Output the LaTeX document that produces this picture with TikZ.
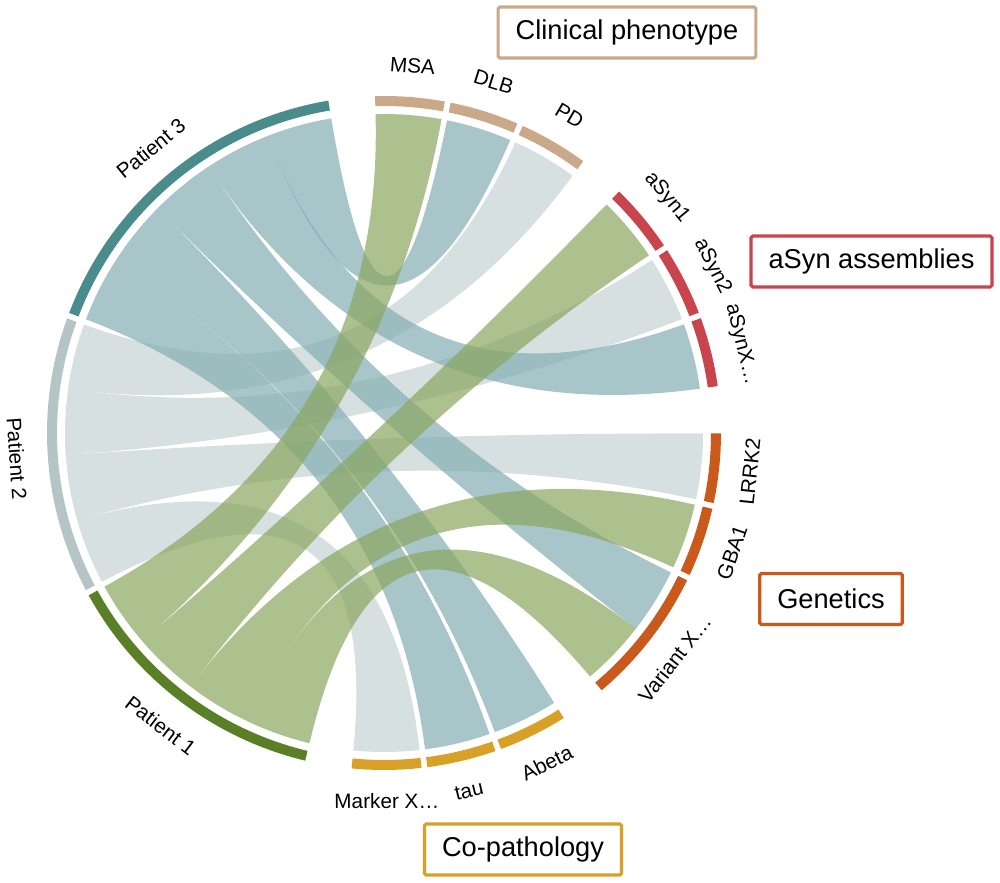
\documentclass[tikz,border=0pt]{standalone}
\usepackage{fontspec}
\setmainfont{Liberation Sans}
\usepackage{tikz}

\definecolor{pone}{HTML}{5A7F26}
\definecolor{ptwo}{HTML}{B5C5C7}
\definecolor{pthree}{HTML}{4A8C8C}
\definecolor{lone}{HTML}{8AA65F}
\definecolor{ltwo}{HTML}{C6D3D3}
\definecolor{lthree}{HTML}{83AEB3}
\definecolor{clin}{HTML}{C9A98A}
\definecolor{asyn}{HTML}{C9454E}
\definecolor{gene}{HTML}{C95A1C}
\definecolor{copa}{HTML}{D9A027}

% ring piece: start, end, colour
\newcommand{\ringpart}[3]{%
  \fill[#3] (#1:337) arc[start angle=#1,end angle=#2,radius=337]
    -- (#2:327) arc[start angle=#2,end angle=#1,radius=327] -- cycle;}
% ribbon: from [#1,#2] to [#3,#4], colour #5
\newcommand{\ribbon}[5]{%
  \fill[#5, fill opacity=0.7] (#1:319) arc[start angle=#1,end angle=#2,radius=319]
    .. controls (#2:106.33) and (#3:106.33) .. (#3:319)
    arc[start angle=#3,end angle=#4,radius=319]
    .. controls (#4:106.33) and (#1:106.33) .. (#1:319) -- cycle;}

\begin{document}
\begin{tikzpicture}[x=0.02cm, y=0.02cm,
    lbl/.style={font=\fontsize{11.8pt}{14pt}\selectfont, inner sep=0pt},
    group/.style={draw=#1, line width=1.8pt, rounded corners=1pt, fill=white,
      font=\fontsize{15.5pt}{18pt}\selectfont, minimum height=1.02cm, inner xsep=10pt}]
  \useasboundingbox (0,0) rectangle (1000,882);

  \begin{scope}[shift={(384,449)}]
    % links
    \ribbon{160.12}{172.04}{53.76}{65.68}{ltwo}
    \ribbon{172.04}{183.96}{20.92}{32.84}{ltwo}
    \ribbon{183.96}{195.88}{348}{359.92}{ltwo}
    \ribbon{195.88}{207.8}{264.48}{276.4}{ltwo}
    \ribbon{99.52}{111.44}{66.68}{78.6}{lthree}
    \ribbon{111.44}{123.36}{8}{19.92}{lthree}
    \ribbon{123.36}{135.28}{322.16}{334.08}{lthree}
    \ribbon{135.28}{147.2}{290.32}{302.24}{lthree}
    \ribbon{147.2}{159.12}{277.4}{289.32}{lthree}
    \ribbon{208.8}{220.72}{79.6}{91.52}{lone}
    \ribbon{220.72}{232.64}{33.84}{45.76}{lone}
    \ribbon{232.64}{244.56}{335.08}{347}{lone}
    \ribbon{244.56}{256.48}{310.24}{322.16}{lone}

    % sectors
    \foreach \a/\b/\c in {8/19.92/asyn, 20.92/32.84/asyn, 33.84/45.76/asyn,
        53.76/65.68/clin, 66.68/78.6/clin, 79.6/91.52/clin,
        99.52/159.12/pthree, 160.12/207.8/ptwo, 208.8/256.48/pone,
        264.48/276.4/copa, 277.4/289.32/copa, 290.32/302.24/copa,
        310.24/334.08/gene, 335.08/347/gene, 348/359.92/gene}
      {\ringpart{\a}{\b}{\c}}

    \foreach \ang/\txt/\nm in {13.96/aSynX…/asynx, 26.88/aSyn2/asyn2, 39.8/aSyn1/asyn1,
        59.72/PD/pd, 72.64/DLB/dlb, 85.56/MSA/msa,
        129.32/Patient 3/pat3, 183.96/Patient 2/pat2, 232.64/Patient 1/pat1,
        270.44/Marker X…/markerx, 283.36/tau/tau, 296.28/Abeta/abeta,
        322.16/Variant X…/variantx, 341.04/GBA1/gba1, 353.96/LRRK2/lrrk2}
    {
      \pgfmathsetmacro\rot{ifthenelse(\ang<180,\ang-90,\ang+90)}
      \node[lbl, rotate=\rot] (\nm) at (\ang:368) {\txt};
    }
  \end{scope}

  \node[group=clin] (clinical) at (627,849.5) {Clinical phenotype};
  \node[group=asyn] (assemblies) at (871.5,620.5) {aSyn assemblies};
  \node[group=gene] (genetics) at (831,283) {Genetics};
  \node[group=copa] (copathology) at (523,32.5) {Co-pathology};
\end{tikzpicture}
\end{document}
